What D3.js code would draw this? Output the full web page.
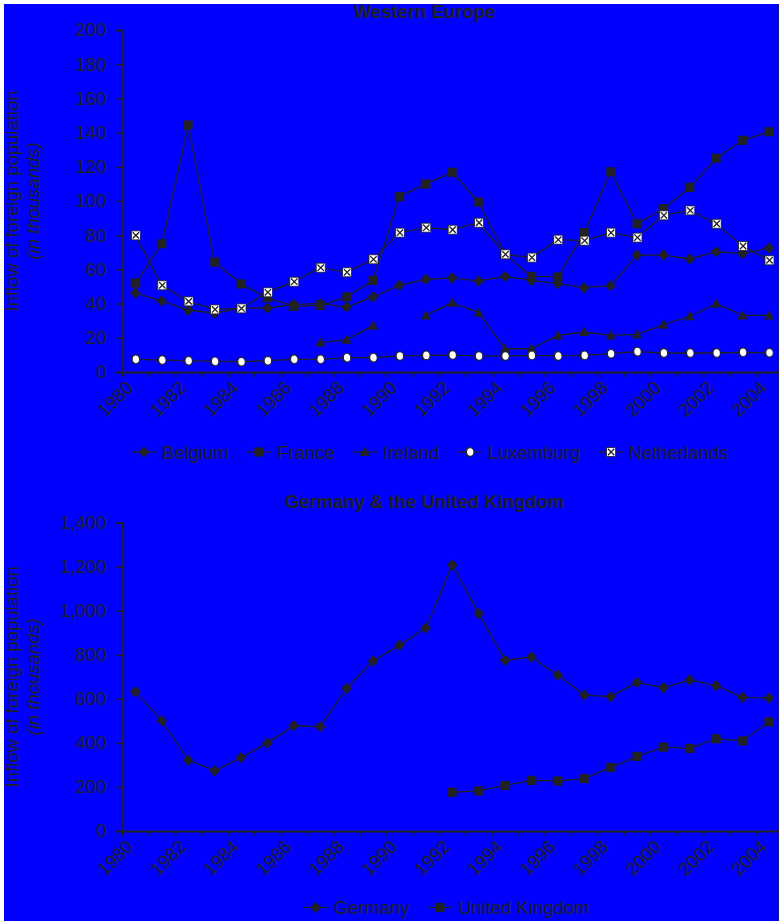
<!DOCTYPE html>
<html><head><meta charset="utf-8">
<script src="https://cdn.jsdelivr.net/npm/d3@7"></script>
<style>
html,body{margin:0;padding:0;background:#fff;}
svg{display:block;}
text{font-family:"Liberation Sans",Arial,Helvetica,sans-serif;fill:#222;}
</style></head>
<body>
<svg id="c" width="779" height="921"></svg>
<script>
const years = ["1980","1981","1982","1983","1984","1985","1986","1987","1988","1989","1990","1991","1992","1993","1994","1995","1996","1997","1998","1999","2000","2001","2002","2003","2004"];
const yearLabels = ["1980","1982","1984","1986","1988","1990","1992","1994","1996","1998","2000","2002","2004"];

const belgium = [46.2,41.5,36.1,34.5,37.2,37.4,39.6,40.0,38.0,43.9,50.7,54.2,55.0,53.2,55.9,53.6,51.7,49.3,50.5,68.4,68.4,66.1,70.4,69.2,72.5];
const france = [52.0,75.0,144.4,64.3,51.5,43.5,38.4,39.0,43.9,53.6,102.5,110.0,116.8,99.4,69.0,55.9,55.6,81.5,117.1,86.7,95.5,108.0,125.0,135.5,140.5];
const ireland = [null,null,null,null,null,null,null,17.2,18.9,27.1,null,33.1,40.5,34.7,13.6,13.6,21.4,23.4,21.4,22.0,27.7,32.6,40.0,33.1,33.1];
const luxembourg = [7.4,7.0,6.6,6.2,6.0,6.6,7.4,7.4,8.4,8.4,9.4,9.7,9.9,9.4,9.4,9.7,9.4,9.7,10.7,11.9,11.1,11.1,11.1,11.5,11.3];
const netherlands = [79.9,50.7,41.3,36.6,37.2,46.6,52.8,61.0,58.3,65.9,81.5,84.4,83.2,87.3,68.8,66.9,77.4,76.8,81.5,78.6,91.6,94.5,86.7,73.7,65.3];
const germany = [633,501,322,274,333,400,478,474,648,772,843,922,1208,988,775,790,708,617,610,675,651,686,660,607,604];
const uk = [null,null,null,null,null,null,null,null,null,null,null,null,176,182,207,230,227,238,289,339,381,375,419,409,496];

const topTicks = [0,20,40,60,80,100,120,140,160,180,200];
const bottomTicks = [0,200,400,600,800,1000,1200,1400];

const INK = "#222";
const FS = 18.5;
const svg = d3.select("#c");
svg.append("rect").attr("x",4).attr("y",4).attr("width",775).attr("height",917).attr("fill","#0000FF");

function marker(g, type, cx, cy){
  const m = g.append("g").attr("transform",`translate(${cx},${cy})`);
  if(type==="diamond"){
    m.append("path").attr("d","M0,-5.2L4.8,0L0,5.2L-4.8,0Z").attr("fill",INK).attr("stroke",INK).attr("stroke-width",1);
  } else if(type==="square"){
    m.append("rect").attr("x",-4.6).attr("y",-4.6).attr("width",9.2).attr("height",9.2).attr("fill",INK);
  } else if(type==="triangle"){
    m.append("path").attr("d","M0,-5.5L5,4L-5,4Z").attr("fill",INK);
  } else if(type==="circle"){
    m.append("ellipse").attr("rx",3.8).attr("ry",4.4).attr("fill","#fff").attr("stroke",INK).attr("stroke-width",1.2);
  } else if(type==="xsquare"){
    m.append("rect").attr("x",-4.5).attr("y",-4.5).attr("width",9).attr("height",9).attr("fill","#fff").attr("stroke",INK).attr("stroke-width",0.8);
    m.append("path").attr("d","M-3.2,-3.2L3.2,3.2M3.2,-3.2L-3.2,3.2").attr("stroke",INK).attr("stroke-width",1.3);
  }
}

function panel(opts){
  const {top, bottom, yDomain, ticks, fmt, title, titleY, series, legendY, legendX} = opts;
  const x = d3.scaleBand().domain(years).range([122.7, 782.7]);
  const xb = d3.scaleLinear().domain([0, years.length]).range([122.7, 782.7]);
  const y = d3.scaleLinear().domain(yDomain).range([bottom, top]);
  const g = svg.append("g");

  // title
  g.append("text").attr("x",425).attr("y",titleY).attr("text-anchor","middle")
    .attr("font-weight","bold").attr("font-size",FS).text(title);

  // y axis
  const ya = g.append("g").attr("transform","translate(122.7,0)")
    .call(d3.axisLeft(y).tickValues(ticks).tickSize(6).tickPadding(10).tickFormat(fmt));
  ya.select(".domain").attr("stroke",INK).attr("stroke-width",2);
  ya.selectAll(".tick line").attr("stroke",INK).attr("stroke-width",1.5);
  ya.selectAll(".tick text").attr("font-size",FS).attr("font-family","Liberation Sans, Arial, sans-serif").attr("fill",INK);

  // x axis
  const xa = g.append("g").attr("transform",`translate(0,${bottom})`)
    .call(d3.axisBottom(xb).tickValues(d3.range(0, years.length+1)).tickSize(5).tickFormat(""));
  xa.select(".domain").attr("stroke",INK).attr("stroke-width",2);
  xa.selectAll(".tick line").attr("stroke",INK).attr("stroke-width",1.5);
  g.selectAll(".xl").data(yearLabels).enter().append("text")
    .attr("font-size",FS).attr("text-anchor","end")
    .attr("transform",d=>`translate(${x(d)+x.bandwidth()/2-1},${bottom+17}) rotate(-45)`)
    .text(d=>d);

  // y label
  const cy = (top+bottom)/2;
  g.append("text").attr("font-size",FS).attr("text-anchor","middle")
    .attr("transform",`translate(18.5,${cy}) rotate(-90)`).text("Inflow of foreign population");
  g.append("text").attr("font-size",FS).attr("text-anchor","middle").attr("font-style","italic")
    .attr("transform",`translate(40,${cy}) rotate(-90)`).text("(in thousands)");

  // series
  series.forEach(s=>{
    const pts = years.map((yr,i)=>({yr, v:s.values[i]}));
    const line = d3.line().defined(d=>d.v!==null).x(d=>x(d.yr)+x.bandwidth()/2).y(d=>y(d.v));
    g.append("path").datum(pts).attr("d",line).attr("fill","none").attr("stroke",INK).attr("stroke-width",1.3);
  });
  series.forEach(s=>{
    const mg = g.append("g");
    years.forEach((yr,i)=>{
      const v = s.values[i];
      if(v===null) return;
      marker(mg, s.type, x(yr)+x.bandwidth()/2, y(v));
    });
  });

  // legend
  let lx = legendX;
  series.forEach(s=>{
    const lg = g.append("g");
    lg.append("line").attr("x1",lx).attr("x2",lx+24).attr("y1",legendY).attr("y2",legendY).attr("stroke",INK).attr("stroke-width",1.3);
    marker(lg, s.type, lx+12, legendY);
    const t = lg.append("text").attr("x",lx+30).attr("y",legendY+6.5).attr("font-size",FS).text(s.name);
    lx = lx + 30 + t.node().getComputedTextLength() + 18.3;
  });
}

panel({top:30, bottom:372, yDomain:[0,200], ticks:topTicks, fmt:d3.format("d"),
  title:"Western Europe", titleY:18, legendY:452, legendX:132.3,
  series:[
    {name:"Belgium", values:belgium, type:"diamond"},
    {name:"France", values:france, type:"square"},
    {name:"Ireland", values:ireland, type:"triangle"},
    {name:"Luxemburg", values:luxembourg, type:"circle"},
    {name:"Netherlands", values:netherlands, type:"xsquare"}
  ]});

panel({top:522.7, bottom:831, yDomain:[0,1400], ticks:bottomTicks, fmt:d3.format(","),
  title:"Germany & the United Kingdom", titleY:508, legendY:907.5, legendX:304,
  series:[
    {name:"Germany", values:germany, type:"diamond"},
    {name:"United Kingdom", values:uk, type:"square"}
  ]});
</script>
</body></html>
